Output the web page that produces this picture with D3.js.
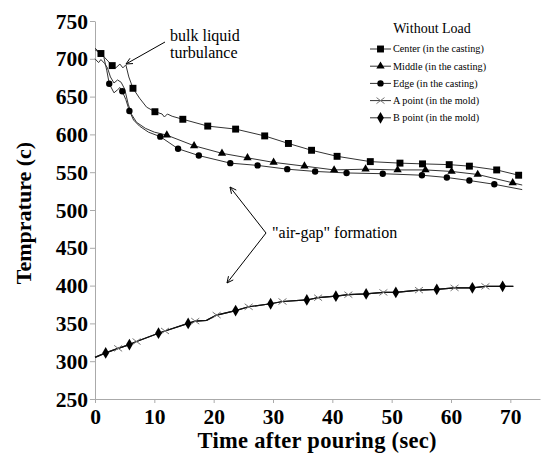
<!DOCTYPE html>
<html>
<head>
<meta charset="utf-8">
<script src="https://cdn.jsdelivr.net/npm/d3@7"></script>
<style>
  body { margin: 0; background: #fff; }
  svg { display: block; }
</style>
</head>
<body>
<div id="chart"></div>
<script>
// [time, temperature, marker?]
const centerPts = [[0,714],[1,707,1],[2.9,691,1],[3.5,688],[4.2,693],[4.7,688],[5.2,692],[5.7,676],[6.4,661,1],[7.5,648],[8.7,636],[10.1,630,1],[11.3,627],[11.7,623],[12.2,627],[13,624],[14.8,620,1],[19,611,1],[23.7,607,1],[28.6,598,1],[32.6,588,1],[36.5,579,1],[40.8,571,1],[46.4,564,1],[51.4,562,1],[55.2,561,1],[59.7,560,1],[63.1,558,1],[67.7,553,1],[71.4,546,1]];
const middlePts = [[0,700],[0.6,695],[1,699],[1.6,694],[2.1,688],[2.6,676],[3.2,668],[3.8,672],[4.4,669],[5,660],[5.6,640],[6.2,626],[7,616],[8.5,608],[10,603],[12.1,599,1],[16.7,585,1],[21.4,575,1],[25.7,569,1],[30.1,563,1],[35.3,558,1],[40.3,553,1],[45.6,554,1],[51,553,1],[55.7,553,1],[60.1,551,1],[64.5,547,1],[70.4,536,1],[72,533]];
const edgePts = [[0,712],[0.8,708],[1.5,702],[2,684],[2.4,667,1],[3.2,655],[3.8,659],[4.2,662],[4.6,657,1],[5.2,646],[5.8,631,1],[6.5,619],[7.5,611],[9,603],[11,597,1],[14,581,1],[17.5,572,1],[22.8,562,1],[27.4,559,1],[32.4,554,1],[37.1,551,1],[42.4,549,1],[48.5,548,1],[55.1,546,1],[59.3,543,1],[63.1,539,1],[67.3,534,1],[72,527]];
const aPointPts = [[0,305],[1.8,311],[3.9,317,1],[5.8,322],[7,326,1],[10.7,337],[11.8,340,1],[15.7,350],[16.9,353,1],[18.8,354],[20.5,361,1],[23.7,367],[25.9,372,1],[29.6,376],[31.6,379,1],[35.7,381],[37.6,384,1],[40.6,386],[42.7,388,1],[45.7,389],[48.6,391,1],[50.7,391],[54.6,394,1],[57.6,395],[60.6,397,1],[63.6,397],[65.8,399,1],[68.7,399],[70.5,399]];
const bPointPts = [[0,305],[1.8,311,1],[3.9,317],[5.8,322,1],[7,326],[10.7,337,1],[11.8,340],[15.7,350,1],[16.9,353],[18.8,354],[20.5,361],[23.7,367,1],[25.9,372],[29.6,376,1],[31.6,379],[35.7,381,1],[37.6,384],[40.6,386,1],[42.7,388],[45.7,389,1],[48.6,391],[50.7,391,1],[54.6,394],[57.6,395,1],[60.6,397],[63.6,397,1],[65.8,399],[68.7,399,1],[70.5,399]];

const seriesNames = ["Center (in the casting)", "Middle (in the casting)", "Edge (in the casting)", "A point (in the mold)", "B point (in the mold)"];
const seriesSymbols = ["square", "triangle", "circle", "cross", "diamond"];
const xTicks = [0, 10, 20, 30, 40, 50, 60, 70];
const yTicks = [250, 300, 350, 400, 450, 500, 550, 600, 650, 700, 750];

const series = [centerPts, middlePts, edgePts, aPointPts, bPointPts].map((pts, i) => ({
  name: seriesNames[i], symbol: seriesSymbols[i], pts
}));

const serif = "Liberation Serif, Times New Roman, serif";

const width = 545, height = 456;
const margin = { left: 95, right: 5, top: 21, bottom: 57 };

const svg = d3.select("#chart").append("svg")
  .attr("width", width).attr("height", height)
  .attr("font-family", serif);

const x = d3.scaleLinear().domain([0, 75]).range([margin.left, width - margin.right]);
const y = d3.scaleLinear().domain([250, 750]).range([height - margin.bottom, margin.top]);

// axes
const xAxis = svg.append("g")
  .attr("transform", `translate(0,${y(250)})`)
  .call(d3.axisBottom(x).tickValues(xTicks).tickSize(4).tickSizeOuter(0));
const yAxis = svg.append("g")
  .attr("transform", `translate(${x(0)},0)`)
  .call(d3.axisLeft(y).tickValues(yTicks).tickSize(5).tickSizeOuter(0));

[xAxis, yAxis].forEach(a => {
  a.attr("font-family", serif).attr("font-size", 21.5).attr("font-weight", "bold");
  a.select(".domain").attr("stroke", "#aaa");
  a.selectAll(".tick line").attr("stroke", "#aaa");
  a.selectAll("text").attr("fill", "#000");
});
xAxis.selectAll("text").attr("dy", "0.95em").attr("y", 5);
yAxis.selectAll("text").attr("x", -7).attr("dy", "0.33em");

// axis titles
svg.append("text")
  .attr("x", 317).attr("y", 448)
  .attr("text-anchor", "middle")
  .attr("font-weight", "bold").attr("font-size", 22.5)
  .attr("textLength", 239).attr("lengthAdjust", "spacing")
  .text("Time after pouring (sec)");
svg.append("text")
  .attr("transform", "translate(31,213) rotate(-90)")
  .attr("text-anchor", "middle")
  .attr("font-weight", "bold").attr("font-size", 22)
  .text("Temprature (c)");

// lines
const line = d3.line().x(d => x(d[0])).y(d => y(d[1]));
const symbolFor = {
  square: d3.symbol(d3.symbolSquare, 48),
  triangle: d3.symbol(d3.symbolTriangle, 30),
  circle: d3.symbol(d3.symbolCircle, 32),
  diamond: d3.symbol(d3.symbolDiamond, 40),
};

function drawMarker(g, sym, cx, cy) {
  if (sym === "cross") {
    g.append("path")
      .attr("d", `M${cx-4},${cy-3}L${cx+4},${cy+3}M${cx-4},${cy+3}L${cx+4},${cy-3}`)
      .attr("stroke", "#777").attr("stroke-width", 1).attr("fill", "none");
  } else {
    g.append("path")
      .attr("d", symbolFor[sym]())
      .attr("transform", `translate(${cx},${cy})`)
      .attr("fill", "#000");
  }
}

const plot = svg.append("g");
series.forEach(s => {
  const mold = s.symbol === "cross" || s.symbol === "diamond";
  plot.append("path")
    .datum(s.pts)
    .attr("d", line)
    .attr("fill", "none")
    .attr("stroke", mold ? "#111" : "#333")
    .attr("stroke-width", mold ? 1.2 : 1);
});
series.forEach(s => {
  const g = plot.append("g");
  s.pts.filter(d => d[2]).forEach(d => drawMarker(g, s.symbol, x(d[0]), y(d[1])));
});

// legend
const legend = svg.append("g");
legend.append("text")
  .attr("x", 432).attr("y", 33)
  .attr("text-anchor", "middle").attr("font-size", 14)
  .text("Without Load");
series.forEach((s, i) => {
  const ly = 49 + i * 17.2;
  legend.append("line")
    .attr("x1", 370).attr("x2", 391).attr("y1", ly).attr("y2", ly)
    .attr("stroke", "#333").attr("stroke-width", 1);
  drawMarker(legend, s.symbol, 380.5, ly);
  legend.append("text")
    .attr("x", 393).attr("y", ly).attr("dy", "0.33em")
    .attr("font-size", 10.2)
    .text(s.name);
});

// annotations
const ann = svg.append("g").attr("font-size", 16);
ann.append("text").attr("x", 170).attr("y", 41).text("bulk liquid");
ann.append("text").attr("x", 170).attr("y", 58).text("turbulance");
ann.append("text").attr("x", 272).attr("y", 238).text("\"air-gap\" formation");

function arrow(x1, y1, x2, y2) {
  const a = Math.atan2(y2 - y1, x2 - x1), L = 7, w = 0.45;
  ann.append("path")
    .attr("d", `M${x1},${y1}L${x2},${y2}M${x2 - L*Math.cos(a - w)},${y2 - L*Math.sin(a - w)}L${x2},${y2}L${x2 - L*Math.cos(a + w)},${y2 - L*Math.sin(a + w)}`)
    .attr("stroke", "#000").attr("stroke-width", 1).attr("fill", "none");
}
arrow(165, 42, 126, 64);
arrow(266, 233, 230, 187);
arrow(266, 233, 227, 283);
</script>
</body>
</html>
